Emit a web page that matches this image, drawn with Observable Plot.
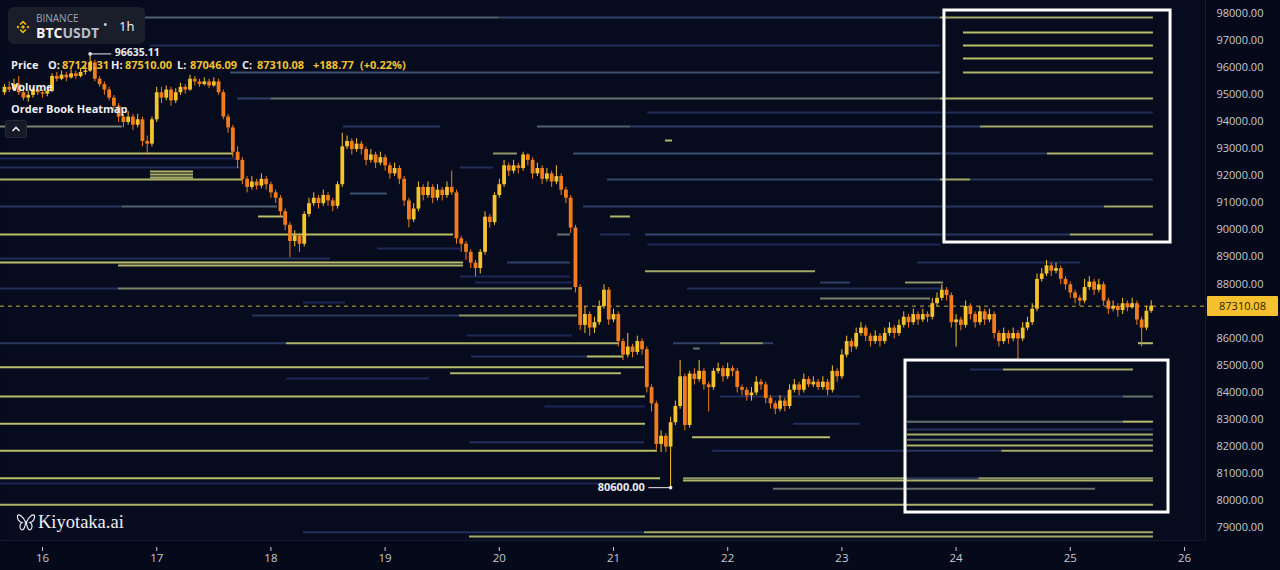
<!DOCTYPE html>
<html><head><meta charset="utf-8">
<script src="https://cdn.jsdelivr.net/npm/d3@7"></script>
<script src="https://cdn.jsdelivr.net/npm/@observablehq/plot@0.6"></script>
<style>
body{margin:0;background:#050a1a;overflow:hidden}
#wrap{position:relative;width:1280px;height:570px;font-family:"Open Sans",sans-serif}
.ov{position:absolute;white-space:nowrap}
.lg{font-size:11px;font-weight:700;color:#eceef2;line-height:12px}
.yv{color:#f0c232}
</style></head><body><div id="wrap"></div>
<script>
// ---------- data ----------
const symbolExchange = "BINANCE";
const symbolBase = "BTC", symbolQuote = "USDT", interval = "1h";
const startDay = 15 + 16/24;          // first hourly candle: 15th, 16:00
const firstOpen = 95200;
const closes = [
95400,95300,95500,95200,95000,95100,95300,95200,95150,95250,
95800,95700,95850,95750,95900,95800,95950,96000,96300,95700,
95500,95300,95000,94700,94300,94100,94300,94000,94200,93400,
93300,94200,95200,95000,95300,94900,95200,95400,95300,95700,
95600,95500,95600,95450,95600,95200,94300,93900,93000,92700,
92000,91700,91900,91750,92000,91800,91500,91300,90800,90300,
89700,89900,89600,90700,91100,91300,91100,91400,91200,91000,
91800,93200,93400,93100,93300,93100,92700,92900,92600,92800,
92500,92200,92400,92000,91200,90500,90900,91700,91400,91700,
91300,91600,91400,91700,91500,89800,89600,89300,88900,88700,
89300,90600,90400,91400,91800,92500,92300,92500,92400,92900,
92700,92200,92400,92000,92200,91900,92100,91600,91300,90200,
88000,86600,87000,86500,86700,87300,87900,86800,87000,86000,
85500,85800,85600,86000,85700,84300,83700,82200,82500,82100,
83000,83600,84700,82900,84800,84600,84900,84400,84300,84900,
85000,84700,85000,84900,84300,84200,84000,84100,84500,84400,
83900,83700,83500,83800,83600,84200,84400,84200,84600,84400,
84500,84300,84500,84200,84900,84700,85500,86000,85800,86300,
86500,86200,86000,86200,86000,86300,86500,86300,86600,86900,
86700,87000,86800,87000,86900,87400,87600,87900,87700,86700,
86800,86600,87300,87000,86700,87100,86800,87000,86300,86000,
86300,86100,86300,86100,86500,86700,87200,88300,88500,88800,
88600,88700,88300,88100,87800,87600,87500,88000,88200,87900,
88100,87500,87200,87300,87150,87400,87250,87400,86800,86500,
87121.31,87310.08];
const highs = [
95500,95600,95700,95800,95300,95250,95400,95450,95300,95400,
95900,95950,96000,95950,96050,96000,96100,96200,96635.11,96400,
95800,95600,95400,95100,94800,94400,94500,94400,94400,94300,
93600,94300,95400,95400,95450,95400,95350,95550,95500,95850,
95800,95700,95750,95700,95750,95700,95300,94400,94000,93200,
92800,92100,92100,92000,92200,92100,91900,91600,91400,90900,
90400,90100,90000,90800,91300,91500,91400,91600,91500,91300,
91900,93700,93600,93500,93500,93400,93200,93100,93000,93000,
92900,92600,92600,92500,92100,91300,91100,91900,91800,91900,
91800,91800,91700,91900,92300,91600,89900,89700,89400,89000,
89400,90800,90700,91500,92000,92700,92600,92700,92600,93000,
92950,92800,92600,92500,92400,92300,92500,92200,91700,91400,
90300,88100,87300,87100,86900,87500,88100,88000,87200,87100,
86100,86300,85900,86200,86100,85800,84400,83800,82700,82600,
83200,83800,85300,84800,84900,85000,85300,85000,84500,85000,
85200,85100,85200,85100,85000,84400,84300,84300,84700,84600,
84500,84000,83800,84000,83900,84400,84600,84500,84800,84700,
84700,84600,84700,84600,85100,85000,85700,86200,86100,86500,
86700,86600,86300,86400,86300,86500,86700,86600,86800,87100,
87000,87200,87100,87200,87100,87600,87800,88100,88000,87800,
87000,86900,87500,87400,87100,87300,87200,87200,87100,86400,
86500,86400,86500,86400,86700,86900,87400,88500,88700,89000,
88900,88900,88800,88400,88200,87900,87700,88300,88400,88300,
88300,88200,87600,87500,87400,87600,87500,87600,87500,86900,
87300,87510];
const lows = [
95100,95200,95250,95100,94900,94850,95000,95100,95000,95050,
95200,95600,95650,95600,95700,95700,95750,95850,95950,95600,
95400,95100,94900,94500,94100,93900,94000,93800,93900,93200,
92900,93200,94100,94800,94900,94700,94800,95100,95150,95250,
95450,95400,95450,95350,95400,95100,94200,93700,92800,92400,
91800,91500,91600,91600,91650,91600,91300,91100,90600,90100,
89100,89500,89300,89500,90600,91000,90900,91000,91000,90800,
90900,91700,93100,92900,93000,92900,92500,92600,92400,92500,
92300,92000,92100,91800,91000,90200,90400,90800,91200,91300,
91100,91200,91200,91300,91400,89600,89300,89000,88700,88400,
88500,89200,90200,90300,91300,91700,92100,92200,92200,92300,
92500,92000,92100,91800,91900,91700,91800,91400,91100,90000,
87800,86400,86300,86200,86300,86600,87200,86600,86700,85800,
85300,85400,85400,85500,85500,84100,83400,82000,81900,81900,
80600,82900,83500,82700,82800,84400,84500,84200,83400,84200,
84800,84500,84600,84700,84100,84000,83800,83800,84000,84200,
83700,83500,83300,83400,83400,83500,84100,84000,84100,84300,
84300,84200,84200,84000,84100,84500,84600,85400,85600,85700,
86200,86000,85800,85900,85800,85900,86200,86100,86200,86500,
86500,86600,86600,86700,86700,86800,87300,87500,87500,86500,
85800,86400,86500,86800,86500,86600,86600,86700,86100,85800,
85900,85900,86000,85300,86000,86400,86600,87100,88200,88400,
88400,88500,88100,87900,87600,87400,87300,87400,87900,87700,
87800,87300,87000,87100,86900,87000,87100,87200,86600,85800,
86400,87046.09];

// order book heatmap: price level, from day, to day, relative size (0..1)
const hmPrice = [
97982,97982,97982,97427,96946,96946,96466,95948,95948,94987,94987,94987,94469,
93952,93952,93952,93952,93952,93434,92954,92954,92954,92954,92954,92769,92436,92436,
92288,92177,92066,91993,91993,91993,91993,91475,90995,90995,90995,90995,90995,90625,90625,
89960,89960,89960,89960,89960,89960,89590,89442,89072,88924,88924,88924,88813,88600,88406,
88184,88184,88184,87963,87963,87963,87592,87444,86964,86964,86224,
85940,85940,85940,85940,85940,85940,85744,85448,85448,85053,84968,84968,84830,84634,
83970,83970,83970,83970,83600,83040,83040,82966,82966,82750,82565,82466,82370,82281,82159,
81964,81964,81964,81964,80950,80950,80950,80950,80866,80755,80559,79966,78953,78953,78795];
const hmFrom = [
16.884,20.0,23.863,24.065,16.946,24.065,24.065,17.646,24.065,17.708,18.0,23.863,21.3,
15.632,18.636,20.334,21.15,24.214,21.455,15.632,19.949,20.65,23.863,24.8,15.632,15.632,19.66,
16.946,16.946,16.946,15.632,20.947,23.863,24.126,18.697,15.632,16.70,20.737,23.863,25.3,17.891,20.974,
15.632,20.51,20.886,21.28,23.863,25.0,21.3,18.933,15.632,15.632,20.072,23.662,16.666,21.28,19.66,
19.792,22.813,23.557,15.632,16.666,21.648,22.813,18.285,17.839,19.651,19.722,
15.632,18.137,21.525,21.937,22.313,25.597,21.70,19.757,20.772,15.632,24.126,24.415,19.573,18.137,
15.632,21.937,23.574,25.466,20.4,23.574,25.466,15.632,22.576,23.574,23.574,21.692,23.574,19.739,23.574,
15.632,21.867,23.574,24.4,15.632,21.613,23.574,24.2,21.613,15.632,22.401,15.632,18.285,21.271,19.739];
const hmTo = [
20.0,23.863,25.728,25.728,23.863,25.728,25.728,23.863,25.728,18.0,23.863,25.728,25.728,
16.70,19.485,21.15,24.214,25.728,21.517,17.673,20.159,23.863,24.8,25.728,17.73,17.73,19.95,
17.322,17.322,17.322,17.76,23.863,24.126,25.728,19.02,16.70,18.058,23.863,25.3,25.728,18.11,21.149,
19.599,20.623,21.15,23.863,25.0,25.728,23.863,19.66,18.522,19.687,20.623,25.089,19.687,22.769,20.623,
20.641,23.075,23.89,16.666,20.641,23.89,23.776,18.653,19.651,20.685,20.641,
18.137,21.053,21.937,22.313,22.401,25.728,21.76,20.772,21.088,21.271,24.415,25.553,21.07,19.389,
21.28,23.163,25.466,25.728,21.28,25.466,25.728,21.28,23.163,25.728,25.728,22.9,25.728,21.271,25.728,
21.385,23.574,24.4,25.728,21.412,23.574,24.2,25.728,25.728,20.9,25.221,25.728,21.271,25.728,25.728];
const hmLevel = [
0.55,0.4,0.75,0.85,0.28,0.85,0.85,0.5,0.8,0.4,0.6,0.8,0.28,
0.65,0.35,0.55,0.38,0.75,0.8,0.85,0.7,0.5,0.35,0.8,0.25,0.3,0.3,
0.8,0.8,0.8,0.8,0.45,0.75,0.35,0.5,0.35,0.55,0.38,0.35,0.75,0.85,0.8,
0.85,0.6,0.3,0.45,0.35,0.75,0.25,0.25,0.3,0.85,0.4,0.3,0.8,0.75,0.25,
0.25,0.4,0.7,0.3,0.65,0.3,0.65,0.25,0.35,0.7,0.25,
0.35,0.8,0.4,0.7,0.4,0.85,0.6,0.3,0.85,0.85,0.3,0.75,0.8,0.25,
0.85,0.3,0.35,0.6,0.25,0.6,0.85,0.85,0.3,0.35,0.75,0.85,0.6,0.3,0.8,
0.85,0.3,0.35,0.75,0.85,0.7,0.35,0.7,0.8,0.22,0.6,0.8,0.3,0.75,0.75];

// highlighted zones drawn on the chart
const boxFrom = [23.898, 23.557];
const boxTo   = [25.878, 25.860];
const boxTop  = [98240, 85300];
const boxBottom = [89663, 79681];

const xTicks = [16,17,18,19,20,21,22,23,24,25,26];
// 87000 sits under the last-price tag and is not shown
const yTicks = [79000,80000,81000,82000,83000,84000,85000,86000,88000,89000,90000,91000,92000,93000,94000,95000,96000,97000,98000];
const xDomain = [15.632, 26.184];
const yDomain = [78647, 98610];

// ---------- build ----------
const UP = "#f6c32c", DOWN = "#f27c1c";
const candles = closes.map((c, i) => ({
  t: startDay + i / 24,
  open: i ? closes[i - 1] : firstOpen,
  close: c, high: highs[i], low: lows[i]
}));
const col = d => d.close >= d.open ? UP : DOWN;
const ramp = d3.piecewise(d3.interpolateRgb, ["#0e1438", "#1c2756", "#3a5070", "#a3a966", "#dada6e"]);
const heat = hmPrice.map((p, i) => ({price: p, from: hmFrom[i], to: hmTo[i], level: hmLevel[i]}));
const boxes = boxFrom.map((f, i) => ({x1: f, x2: boxTo[i], y1: boxTop[i], y2: boxBottom[i]}));
const lastBar = candles[candles.length - 1];
const hiPt = candles.reduce((a, b) => b.high > a.high ? b : a);
const loPt = candles.reduce((a, b) => b.low < a.low ? b : a);
const ANN = "#e8eaee";

const chart = Plot.plot({
  width: 1280, height: 570,
  marginLeft: 0, marginRight: 75, marginTop: 0, marginBottom: 30,
  style: {background: "#050a1a", fontFamily: "Open Sans, sans-serif"},
  x: {domain: xDomain, axis: null},
  y: {domain: yDomain, axis: null},
  marks: [
    Plot.frame({fill: "#060b1e", stroke: null}),
    Plot.ruleX([xDomain[1]], {stroke: "#161c30"}),
    Plot.ruleY([yDomain[0]], {stroke: "#161c30"}),
    Plot.ruleY(heat, {y: "price", x1: "from", x2: "to", stroke: d => ramp(d.level), strokeWidth: 2}),
    Plot.ruleY([lastBar.close], {stroke: "#c9ad3c", strokeWidth: 1, strokeDasharray: "4,4"}),
    Plot.ruleX(candles, {x: "t", y1: "low", y2: "high", stroke: col, strokeWidth: 1}),
    Plot.ruleX(candles, {x: "t", y1: "open", y2: "close", stroke: col, strokeWidth: 3.8}),
    Plot.rect(boxes, {x1: "x1", x2: "x2", y1: "y1", y2: "y2", fill: "none", stroke: "#ffffff", strokeWidth: 3}),
    // high / low annotations
    Plot.ruleY([hiPt], {y: "high", x1: "t", x2: d => d.t + 0.19, stroke: ANN, strokeWidth: 1}),
    Plot.dot([hiPt], {x: "t", y: "high", r: 1.8, fill: ANN}),
    Plot.text([hiPt], {x: d => d.t + 0.19, y: "high", text: d => d.high.toFixed(2), textAnchor: "start", dx: 3, dy: -1, fill: ANN, fontSize: 10.5, fontWeight: "bold"}),
    Plot.ruleY([loPt], {y: "low", x1: d => d.t - 0.19, x2: "t", stroke: ANN, strokeWidth: 1}),
    Plot.dot([loPt], {x: "t", y: "low", r: 1.8, fill: ANN}),
    Plot.text([loPt], {x: d => d.t - 0.19, y: "low", text: d => d.low.toFixed(2), textAnchor: "end", dx: -4, fill: ANN, fontSize: 11, fontWeight: "bold"}),
    // axes
    Plot.axisY({anchor: "right", ticks: yTicks, tickSize: 0, tickPadding: 11, tickFormat: d => d.toFixed(2), color: "#c6c9d2", fontSize: 11, dy: -3.5}),
    Plot.axisX({anchor: "bottom", ticks: xTicks, tickSize: 4, tickPadding: 2, tickFormat: d => String(d), color: "#c6c9d2", fontSize: 11.5, dy: 7})
  ]
});

const wrap = document.getElementById("wrap");
chart.style.position = "absolute"; chart.style.left = "0"; chart.style.top = "0";
wrap.appendChild(chart);

// last price tag on the price axis, positioned with the chart's own y scale
const yLast = chart.scale("y").apply(lastBar.close);
const tag = document.createElement("div");
tag.className = "ov";
tag.style.cssText = `left:1207px;top:${yLast - 10}px;width:71px;height:20px;background:#f5c12e;color:#2b2200;font-size:11px;line-height:20px;text-align:center;border-radius:1px`;
tag.textContent = lastBar.close.toFixed(2);
wrap.appendChild(tag);

// legend overlays
const prevClose = candles[candles.length - 2].close;
const chg = lastBar.close - prevClose;
const pct = chg / prevClose * 100;
const fmt = v => v.toFixed(2);
const html = `
<div class="ov" style="left:8px;top:7px;width:137px;height:37px;background:#1a1e2b;border-radius:6px"></div>
<svg class="ov" style="left:15px;top:19px" width="16" height="16" viewBox="0 0 16 16"><g fill="#f0b90b">
<path d="M8 6l2 2-2 2-2-2z"/><path d="M3 6.5l1.5 1.5L3 9.5 1.5 8z"/><path d="M13 6.5l1.5 1.5-1.5 1.5L11.5 8z"/>
<path d="M8 1.5l3.5 3.5-1.1 1.1L8 3.7 5.6 6.1 4.5 5z"/><path d="M8 14.5l3.5-3.5-1.1-1.1L8 12.3 5.6 9.9 4.5 11z"/></g></svg>
<div class="ov" style="left:36px;top:11px;font-size:10px;color:#9ea3ae;line-height:14px">${symbolExchange}</div>
<div class="ov" style="left:36px;top:24px;font-size:14px;font-weight:700;line-height:18px;color:#f2f3f5">${symbolBase}<span style="color:#b9bdc7">${symbolQuote}</span></div>
<div class="ov" style="left:103px;top:15px;font-size:12px;color:#d9dbe0;line-height:20px">•</div>
<div class="ov" style="left:119px;top:16px;font-size:13px;color:#f2f3f5;line-height:20px">${interval}</div>
<div class="ov lg" style="left:11px;top:59px">Price</div>
<div class="ov lg" style="left:48px;top:59px">O:</div><div class="ov lg yv" style="left:62px;top:59px">${fmt(lastBar.open)}</div>
<div class="ov lg" style="left:111px;top:59px">H:</div><div class="ov lg yv" style="left:125px;top:59px">${fmt(lastBar.high)}</div>
<div class="ov lg" style="left:177px;top:59px">L:</div><div class="ov lg yv" style="left:190px;top:59px">${fmt(lastBar.low)}</div>
<div class="ov lg" style="left:242px;top:59px">C:</div><div class="ov lg yv" style="left:257px;top:59px">${fmt(lastBar.close)}</div>
<div class="ov lg yv" style="left:313px;top:59px">+${fmt(chg)}</div>
<div class="ov lg yv" style="left:360px;top:59px">(+${fmt(pct)}%)</div>
<div class="ov lg" style="left:11px;top:81px">Volume</div>
<div class="ov lg" style="left:11px;top:103px">Order Book Heatmap</div>
<div class="ov" style="left:5px;top:120px;width:22px;height:18px;background:#161a26;border-radius:3px;border:1px solid #23283a;box-sizing:border-box"></div>
<svg class="ov" style="left:11px;top:125px" width="10" height="8" viewBox="0 0 10 8"><path d="M1.5 6L5 2.5 8.5 6" stroke="#e8eaee" stroke-width="1.6" fill="none"/></svg>
<svg class="ov" style="left:16px;top:513px" width="20" height="19" viewBox="0 0 20 19"><g stroke="#e9ebf0" stroke-width="1.2" fill="none">
<path d="M9.5 9C7 3 3 1 1.5 2.5 1 6 3 9 6 9.5 3 11 3.5 16 6 17 8 17 9.5 13 9.5 9z"/>
<path d="M10.5 9C13 3 17 1 18.5 2.5 19 6 17 9 14 9.5 17 11 16.5 16 14 17 12 17 10.5 13 10.5 9z"/></g></svg>
<div class="ov" style="left:38px;top:509px;font-family:'Liberation Serif',serif;font-size:18.5px;color:#eef0f4;line-height:26px">Kiyotaka.ai</div>
`;
wrap.insertAdjacentHTML("beforeend", html);
</script></body></html>
